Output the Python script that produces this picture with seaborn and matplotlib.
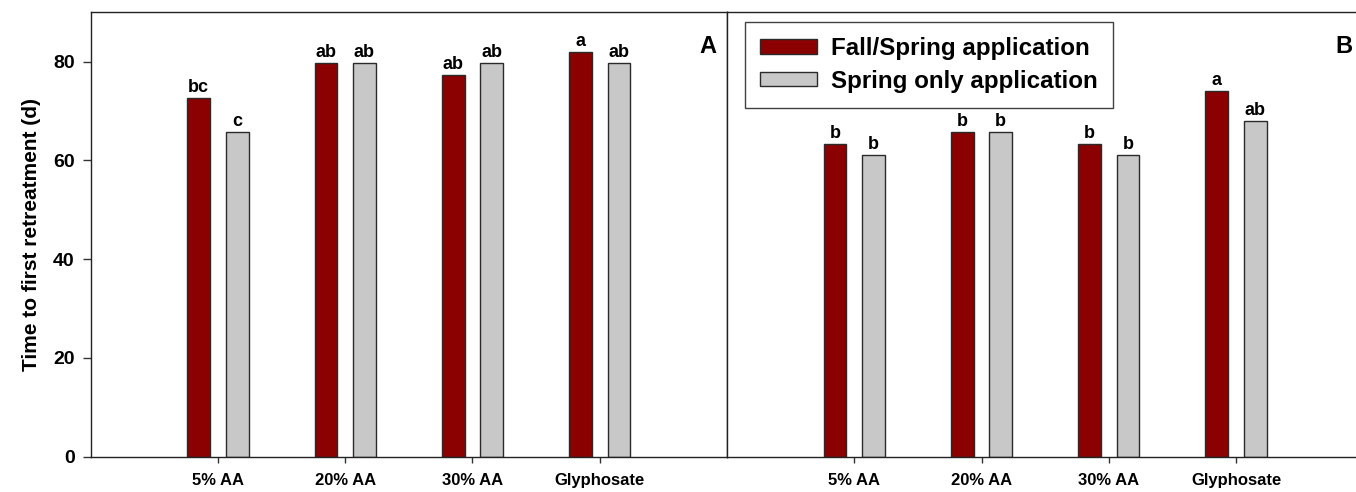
import matplotlib
matplotlib.use("Agg")
import matplotlib.pyplot as plt
import seaborn as sns
import pandas as pd
from matplotlib.patches import Patch

# Treatments and series
treatments = ["5% AA", "20% AA", "30% AA", "Glyphosate"]
series_names = ["Fall/Spring application", "Spring only application"]

# Time to first retreatment (days), panel A
a_fall_spring = [72.7, 79.7, 77.3, 82.0]
a_spring_only = [65.7, 79.7, 79.7, 79.7]
a_letters_fs = ["bc", "ab", "ab", "a"]
a_letters_so = ["c", "ab", "ab", "ab"]

# Time to first retreatment (days), panel B
b_fall_spring = [63.3, 65.7, 63.3, 74.0]
b_spring_only = [61.0, 65.7, 61.0, 68.0]
b_letters_fs = ["b", "b", "b", "a"]
b_letters_so = ["b", "b", "b", "ab"]

y_ticks = [0, 20, 40, 60, 80]
colors = ["#8B0000", "#C8C8C8"]

sns.set_style("ticks")
plt.rcParams["font.family"] = ["Liberation Sans", "DejaVu Sans"]
plt.rcParams["font.weight"] = "bold"
plt.rcParams["axes.labelweight"] = "bold"
plt.rcParams["text.color"] = "black"
plt.rcParams["axes.labelcolor"] = "black"
plt.rcParams["xtick.color"] = "#333333"
plt.rcParams["ytick.color"] = "#333333"
plt.rcParams["xtick.labelcolor"] = "black"
plt.rcParams["ytick.labelcolor"] = "black"


def long_frame(fs, so):
    return pd.DataFrame({
        "treatment": treatments * 2,
        "value": list(fs) + list(so),
        "application": [series_names[0]] * 4 + [series_names[1]] * 4,
    })


W, H = 1356, 492
fig = plt.figure(figsize=(W / 100, H / 100), dpi=100)
ax_left = 90.7 / W
ax_bottom = (H - 456.7) / H
ax_w = 636.3 / W
ax_h = 444.4 / H
ax1 = fig.add_axes([ax_left, ax_bottom, ax_w, ax_h])
ax2 = fig.add_axes([727.0 / W, ax_bottom, ax_w, ax_h])

panels = [
    (ax1, a_fall_spring, a_spring_only, a_letters_fs, a_letters_so, "A"),
    (ax2, b_fall_spring, b_spring_only, b_letters_fs, b_letters_so, "B"),
]

for ax, fs, so, lfs, lso, tag in panels:
    df = long_frame(fs, so)
    sns.barplot(data=df, x="treatment", y="value", hue="application",
                order=treatments, hue_order=series_names, palette=colors,
                width=0.604, gap=0.41, edgecolor="#2a2a2a", linewidth=1.0,
                saturation=1, legend=False, ax=ax, errorbar=None)
    for cont, labels in zip(ax.containers, [lfs, lso]):
        ax.bar_label(cont, labels=labels, padding=1.5, fontsize=13,
                     fontweight="bold", color="black")
    ax.set_xlim(-1, 4)
    ax.set_ylim(0, 90)
    ax.set_xlabel("")
    for s in ax.spines.values():
        s.set_visible(True)
        s.set_color("#222222")
        s.set_linewidth(1.0)
    ax.tick_params(axis="x", length=4.5, width=1.0, labelsize=12, pad=7)
    for t in ax.get_xticklabels():
        t.set_fontweight("bold")
    ax.text(0.983, 0.95, tag, transform=ax.transAxes, ha="right", va="top",
            fontsize=17, fontweight="bold", color="black")

ax1.set_yticks(y_ticks)
ax1.set_yticklabels([str(v) for v in y_ticks], fontweight="bold")
ax1.tick_params(axis="y", length=5.5, width=1.0, labelsize=14, pad=6)
ax1.set_ylabel("Time to first retreatment (d)", fontsize=15,
               fontweight="bold", labelpad=9)

ax2.set_yticks([])
ax2.set_ylabel("")

handles = [Patch(facecolor=colors[0], edgecolor="#2a2a2a", linewidth=1.0),
           Patch(facecolor=colors[1], edgecolor="#2a2a2a", linewidth=1.0)]
leg = ax2.legend(handles, series_names, loc="upper left",
                 bbox_to_anchor=(0.028, 0.978), borderaxespad=0,
                 fontsize=17.4, frameon=True, fancybox=False,
                 handlelength=2.35, handleheight=0.54, labelspacing=0.4,
                 handletextpad=0.6, borderpad=0.62)
leg.get_frame().set_edgecolor("#111111")
leg.get_frame().set_linewidth(1.0)
for t in leg.get_texts():
    t.set_fontweight("bold")
    t.set_color("black")

fig.savefig("out.png", dpi=100)
